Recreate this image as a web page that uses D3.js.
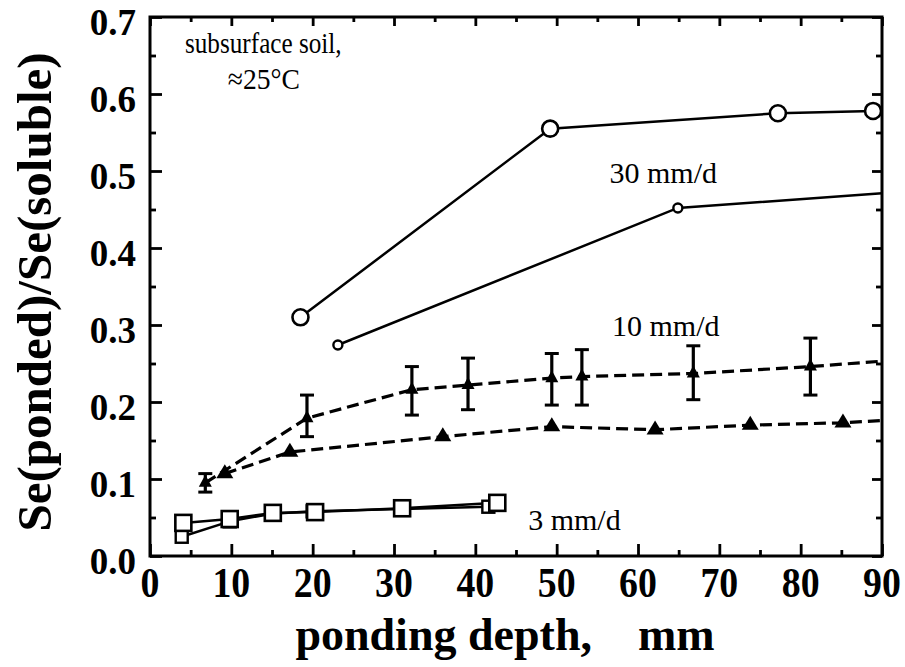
<!DOCTYPE html>
<html><head><meta charset="utf-8">
<script src="https://cdn.jsdelivr.net/npm/d3@7/dist/d3.min.js"></script>
<style>body{margin:0;background:#fff}svg{display:block}</style>
</head><body><svg id="c" width="905" height="667"></svg>
<script>
// ---- data ----
const xTicks = [0,10,20,30,40,50,60,70,80,90];
const xMinor = [5,15,25,35,45,55,65,75,85];
const yTicks = [0,0.1,0.2,0.3,0.4,0.5,0.6,0.7];
const yMinor = [0.05,0.15,0.25,0.35,0.45,0.55,0.65];

// 30 mm/d, large open circles
const s30a = [[18.5,0.310],[49.2,0.555],[77.2,0.575],[88.9,0.578]];
// 30 mm/d, small open circles (line runs on to the axis)
const s30b = [[23.1,0.274],[64.9,0.452]];
const s30bTail = [[90,0.471]];
// 10 mm/d, triangles with error bars [x, y, low, high]
const s10a = [[6.8,0.095,0.083,0.107],[19.3,0.179,0.155,0.209],[32.2,0.216,0.183,0.246],[39.1,0.222,0.190,0.257],
              [49.4,0.231,0.196,0.263],[53.1,0.233,0.196,0.268],[66.8,0.237,0.203,0.273],[81.2,0.246,0.209,0.283]];
const s10aTail = [[90,0.253]];
// 10 mm/d, triangles without error bars
const s10b = [[9.2,0.107],[17.2,0.135],[36.0,0.155],[49.4,0.168],[62.1,0.164],[73.8,0.170],[85.2,0.173]];
const s10bTail = [[90,0.176]];
// 3 mm/d, squares
const s3a = [[4.1,0.043],[9.8,0.048],[15.1,0.056],[20.3,0.057],[31.0,0.062],[42.7,0.069]];
const s3b = [[3.9,0.025],[9.8,0.045],[15.0,0.055],[20.0,0.058],[31.0,0.061],[41.6,0.064]];

const annotations = [
  {text:"subsurface soil,", x:4.3, y:0.653, anchor:"start", sx:0.84},
  {text:"\u224825\u00b0C", x:14.0, y:0.607, anchor:"middle", sx:0.92},
  {text:"30 mm/d", x:56.5, y:0.485, anchor:"start", sx:1},
  {text:"10 mm/d", x:56.8, y:0.286, anchor:"start", sx:1},
  {text:"3 mm/d", x:46.5, y:0.034, anchor:"start", sx:1}
];

// ---- drawing ----
const svg = d3.select("#c");
const L=150, R=882, T=17, B=556;
const x = d3.scaleLinear().domain([0,90]).range([L,R]);
const y = d3.scaleLinear().domain([0,0.7]).range([B,T]);
const SERIF = "'Liberation Serif','Times New Roman',serif";

function tickAxis(gen, pos, vals, size) {
  const g = svg.append("g").attr("transform", pos)
    .call(gen.tickValues(vals).tickSizeInner(size).tickSizeOuter(0).tickFormat(""));
  g.select(".domain").remove();
  g.selectAll("line").attr("stroke","#000").attr("stroke-width",2.8);
  return g;
}
tickAxis(d3.axisBottom(x), `translate(0,${B})`, xTicks, -12);
tickAxis(d3.axisBottom(x), `translate(0,${B})`, xMinor, -6);
tickAxis(d3.axisTop(x), `translate(0,${T})`, xTicks, -9);
tickAxis(d3.axisTop(x), `translate(0,${T})`, xMinor, -5);
tickAxis(d3.axisLeft(y), `translate(${L},0)`, yTicks, -12);
tickAxis(d3.axisLeft(y), `translate(${L},0)`, yMinor, -6);
tickAxis(d3.axisRight(y), `translate(${R},0)`, yTicks, -10);
tickAxis(d3.axisRight(y), `translate(${R},0)`, yMinor, -6);

svg.append("rect").attr("x",L).attr("y",T).attr("width",R-L).attr("height",B-T)
  .attr("fill","none").attr("stroke","#000").attr("stroke-width",3);

// tick labels
svg.append("g").selectAll("text").data(xTicks).join("text")
  .attr("transform", d => `translate(${x(d)},${B+41}) scale(0.9,1)`)
  .attr("text-anchor","middle").attr("font-family",SERIF).attr("font-weight","bold")
  .attr("font-size",42).text(d => d);
svg.append("g").selectAll("text").data(yTicks).join("text")
  .attr("x", L-14).attr("y", d => y(d)+18)
  .attr("text-anchor","end").attr("font-family",SERIF).attr("font-weight","bold")
  .attr("font-size",37).text(d3.format(".1f"));

// axis titles
svg.append("text").attr("x", 505).attr("y", 650).attr("text-anchor","middle")
  .attr("font-family",SERIF).attr("font-weight","bold").attr("font-size",46)
  .style("white-space","pre").text("ponding depth,    mm");
svg.append("text").attr("transform","translate(51,292) rotate(-90)").attr("text-anchor","middle")
  .attr("font-family",SERIF).attr("font-weight","bold").attr("font-size",49)
  .text("Se(ponded)/Se(soluble)");

const line = d3.line().x(d => x(d[0])).y(d => y(d[1]));
const plot = svg.append("g");
const triPath = (w,h) => `M0,${-h*2/3}L${w/2},${h/3}L${-w/2},${h/3}Z`;

// 3 mm/d
plot.append("path").attr("d", line(s3b)).attr("fill","none").attr("stroke","#000").attr("stroke-width",2.5);
plot.append("path").attr("d", line(s3a)).attr("fill","none").attr("stroke","#000").attr("stroke-width",2.5);
plot.selectAll(".sqb").data(s3b).join("rect").attr("class","sqb")
  .attr("x", d => x(d[0])-6).attr("y", d => y(d[1])-6).attr("width",12).attr("height",12)
  .attr("fill","#fff").attr("stroke","#000").attr("stroke-width",2.4);
plot.selectAll(".sqa").data(s3a).join("rect").attr("class","sqa")
  .attr("x", d => x(d[0])-8).attr("y", d => y(d[1])-8).attr("width",16).attr("height",16)
  .attr("fill","#fff").attr("stroke","#000").attr("stroke-width",2.6);

// 10 mm/d
plot.append("path").attr("d", line(s10b.concat(s10bTail))).attr("fill","none").attr("stroke","#000")
  .attr("stroke-width",3.2).attr("stroke-dasharray","12,6");
plot.append("path").attr("d", line(s10a.concat(s10aTail))).attr("fill","none").attr("stroke","#000")
  .attr("stroke-width",3.2).attr("stroke-dasharray","12,6");
const eb = plot.selectAll(".eb").data(s10a).join("g").attr("class","eb");
eb.append("line").attr("x1", d => x(d[0])).attr("x2", d => x(d[0]))
  .attr("y1", d => y(d[2])).attr("y2", d => y(d[3])).attr("stroke","#000").attr("stroke-width",3.2);
eb.append("line").attr("x1", d => x(d[0])-7).attr("x2", d => x(d[0])+7)
  .attr("y1", d => y(d[2])).attr("y2", d => y(d[2])).attr("stroke","#000").attr("stroke-width",3);
eb.append("line").attr("x1", d => x(d[0])-7).attr("x2", d => x(d[0])+7)
  .attr("y1", d => y(d[3])).attr("y2", d => y(d[3])).attr("stroke","#000").attr("stroke-width",3);
plot.selectAll(".ta").data(s10a).join("path").attr("class","ta")
  .attr("transform", d => `translate(${x(d[0])},${y(d[1])})`).attr("d", triPath(13,12)).attr("fill","#000");
plot.selectAll(".tb").data(s10b).join("path").attr("class","tb")
  .attr("transform", d => `translate(${x(d[0])},${y(d[1])})`).attr("d", triPath(17,14)).attr("fill","#000");

// 30 mm/d
plot.append("path").attr("d", line(s30b.concat(s30bTail))).attr("fill","none").attr("stroke","#000").attr("stroke-width",2.5);
plot.append("path").attr("d", line(s30a)).attr("fill","none").attr("stroke","#000").attr("stroke-width",2.5);
plot.selectAll(".cb").data(s30b).join("circle").attr("class","cb")
  .attr("cx", d => x(d[0])).attr("cy", d => y(d[1])).attr("r",4.5)
  .attr("fill","#fff").attr("stroke","#000").attr("stroke-width",2.4);
plot.selectAll(".ca").data(s30a).join("circle").attr("class","ca")
  .attr("cx", d => x(d[0])).attr("cy", d => y(d[1])).attr("r",8)
  .attr("fill","#fff").attr("stroke","#000").attr("stroke-width",2.6);

// annotations
svg.append("g").selectAll("text").data(annotations).join("text")
  .attr("transform", d => `translate(${x(d.x)},${y(d.y)}) scale(${d.sx},1)`).attr("text-anchor", d => d.anchor)
  .attr("font-family",SERIF).attr("font-size",30).text(d => d.text);
</script></body></html>
